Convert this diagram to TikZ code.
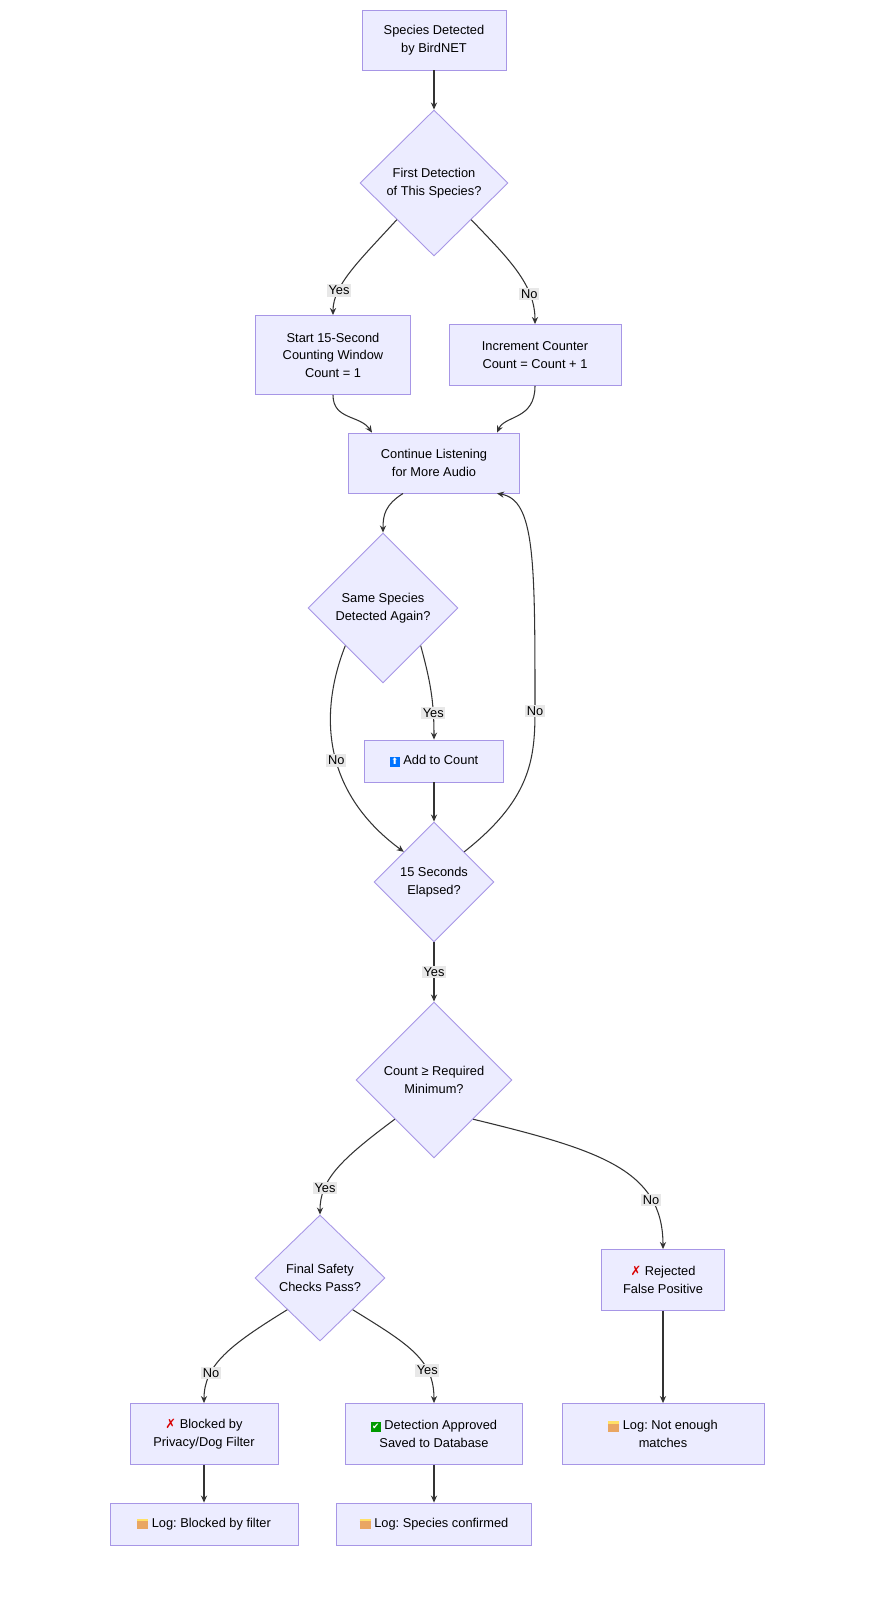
\documentclass[tikz,border=0pt]{standalone}
\usepackage{fontspec}
\setmainfont{Liberation Sans}
\newfontfamily\sym{DejaVu Sans}
\usetikzlibrary{shapes.geometric,arrows.meta}
\definecolor{nf}{HTML}{ECECFF}
\definecolor{ns}{HTML}{A796E6}
\definecolor{ln}{HTML}{333333}
\definecolor{lb}{HTML}{E8E8E8}
\newcommand{\xx}{{\sym\color{red!85!black}\bfseries ✗}}
\newcommand{\iconbox}[2]{\makebox[0pt][l]{\raisebox{-0.25ex}{\textcolor{#1}{\rule{0.2cm}{0.2cm}}}}\makebox[0.2cm]{\sym\tiny\color{white}#2}}
\newcommand{\ok}{\iconbox{green!60!black}{✔}}
\newcommand{\up}{\iconbox{blue!55!cyan}{⬆}}
\newcommand{\fold}{\makebox[0pt][l]{\raisebox{-0.25ex}{\textcolor{orange!50!brown!70}{\rule{0.22cm}{0.16cm}}}}\raisebox{0.9ex}{\textcolor{orange!40!yellow!60}{\rule{0.22cm}{0.05cm}}}}
\frenchspacing
\begin{document}
\begin{tikzpicture}[x=0.02cm,y=-0.02cm,
  box/.style={draw=ns,fill=nf,line width=0.5pt,align=center,font=\fontsize{7.3}{10}\selectfont,inner sep=0},
  dia/.style={diamond,draw=ns,fill=nf,line width=0.5pt,align=center,font=\fontsize{7.3}{10}\selectfont,inner sep=0,aspect=1},
  ar/.style={draw=ln,line width=0.6pt,-{Stealth[length=4pt,width=3.5pt]}},
  lab/.style={fill=lb,inner sep=1pt,font=\fontsize{7.3}{9}\selectfont}]
\useasboundingbox (0,0) rectangle (893,1600);
\fill[white] (0,0) rectangle (893,1600);
\node[box,minimum width=144*0.02cm,minimum height=60*0.02cm] (s) at (434,40) {Species Detected\\by BirdNET};
\node[dia,minimum width=148*0.02cm,minimum height=146*0.02cm] (d1) at (434,183) {First Detection\\of This Species?};
\node[box,minimum width=155*0.02cm,minimum height=79*0.02cm] (y1) at (333,355) {Start 15-Second\\Counting Window\\Count = 1};
\node[box,minimum width=172*0.02cm,minimum height=61*0.02cm] (n1) at (535,355) {Increment Counter\\Count = Count + 1};
\node[box,minimum width=171*0.02cm,minimum height=60*0.02cm] (c) at (434,463) {Continue Listening\\for More Audio};
\node[dia,minimum width=150*0.02cm,minimum height=150*0.02cm] (d2) at (383,608) {Same Species\\Detected Again?};
\node[box,minimum width=139*0.02cm,minimum height=42*0.02cm] (a) at (434,761) {\up\ Add to Count};
\node[dia,minimum width=120*0.02cm,minimum height=120*0.02cm] (d3) at (434,882) {15 Seconds\\Elapsed?};
\node[dia,minimum width=156*0.02cm,minimum height=156*0.02cm] (d4) at (434,1080) {Count ≥ Required\\Minimum?};
\node[dia,minimum width=130*0.02cm,minimum height=126*0.02cm] (d5) at (320,1278) {Final Safety\\Checks Pass?};
\node[box,minimum width=123*0.02cm,minimum height=61*0.02cm] (r) at (663,1280) {\xx\ Rejected\\False Positive};
\node[box,minimum width=148*0.02cm,minimum height=61*0.02cm] (b) at (204,1434) {\xx\ Blocked by\\Privacy/Dog Filter};
\node[box,minimum width=177*0.02cm,minimum height=61*0.02cm] (ap) at (434,1434) {\ok\ Detection Approved\\Saved to Database};
\node[box,minimum width=202*0.02cm,minimum height=61*0.02cm] (l3) at (663,1434) {\fold\ Log: Not enough\\matches};
\node[box,minimum width=188*0.02cm,minimum height=42*0.02cm] (l1) at (204,1524) {\fold\ Log: Blocked by filter};
\node[box,minimum width=195*0.02cm,minimum height=42*0.02cm] (l2) at (434,1524) {\fold\ Log: Species confirmed};
\draw[ar] (s) -- (d1);
\draw[ar] (d1.south west) .. controls (360,260) and (333,285) .. node[lab,pos=0.72]{Yes} (y1.north);
\draw[ar] (d1.south east) .. controls (510,260) and (535,285) .. node[lab,pos=0.72]{No} (n1.north);
\draw[ar] (y1.south) .. controls (333,420) and (360,415) .. (c.north west -| 372,433);
\draw[ar] (n1.south) .. controls (535,420) and (505,415) .. (c.north east -| 497,433);
\draw[ar] (c.south west -| 403,493) .. controls (385,505) and (383,515) .. (d2.north);
\draw[ar] (d2.south east) .. controls (430,680) and (434,700) .. node[lab,pos=0.75]{Yes} (a.north);
\draw[ar] (d2.south west) .. controls (320,710) and (320,790) .. node[lab,pos=0.55]{No} (d3.north west);
\draw[ar] (a) -- (d3);
\draw[ar] (d3.north east) .. controls (530,800) and (535,760) .. (535,711) node[lab]{No} .. controls (535,560) and (535,500) .. (c.south east -| 497,493);
\draw[ar] (d3) -- node[lab]{Yes} (d4);
\draw[ar] (d4.south west) .. controls (340,1160) and (320,1180) .. node[lab,pos=0.72]{Yes} (d5.north);
\draw[ar] (d4.south east) .. controls (600,1150) and (663,1170) .. node[lab,pos=0.75]{No} (r.north);
\draw[ar] (d5.south west) .. controls (230,1345) and (204,1365) .. node[lab,pos=0.7]{No} (b.north);
\draw[ar] (d5.south east) .. controls (410,1345) and (434,1360) .. node[lab,pos=0.7]{Yes} (ap.north);
\draw[ar] (r) -- (l3);
\draw[ar] (b) -- (l1);
\draw[ar] (ap) -- (l2);
\end{tikzpicture}
\end{document}
